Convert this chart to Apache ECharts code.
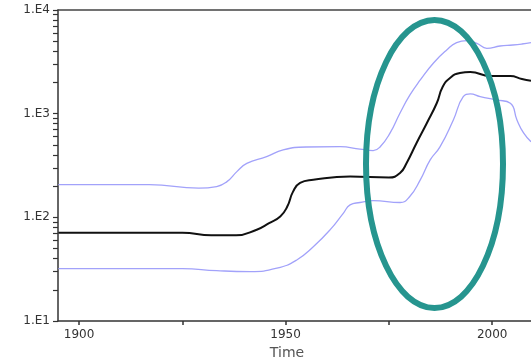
<!DOCTYPE html>
<html>
<head>
<meta charset="utf-8">
<script src="https://cdn.jsdelivr.net/npm/echarts@6/dist/echarts.min.js"></script>
<style>html,body{margin:0;padding:0;background:#fff}#c{width:531px;height:362px}</style>
</head>
<body>
<div id="c"></div>
<script>
const blackYears = [1895,1925,1932,1938,1943,1946,1948.7,1950.4,1951.8,1953.5,1956.7,1965.6,1975,1977.7,1979.3,1981.7,1984.2,1986.6,1988,1989.8,1992.2,1994.7,1999.5,2004.4,2007.2,2009.4];
const blackVals  = [71,71,67,67,76,88,102,127,177,215,230,247,242,268,335,522,813,1268,1809,2210,2469,2523,2310,2310,2160,2080];

const upperYears = [1895,1917,1929,1933.3,1935.8,1938.2,1940.6,1945.4,1949.4,1955,1963.2,1968,1971.2,1972.9,1975.3,1977.7,1980.1,1982.6,1985.8,1989,1991.4,1993.9,1996.3,1998.7,2001.9,2005,2007.2,2009.4];
const upperVals  = [207,207,191,198,221,276,332,385,447,477,480,454,440,480,652,1016,1515,2113,3083,4115,4838,5058,4774,4272,4497,4597,4699,4838];

const lowerYears = [1895,1925,1933.3,1941.4,1947.9,1952.7,1956.7,1960.8,1964,1965.6,1968,1971.2,1977.7,1980,1982.6,1985,1987.4,1990.6,1993,1994.7,1997.1,2001.1,2004.4,2006,2007.6,2009.4];
const lowerVals  = [32,32,30.6,30,32.3,38.8,52,76,110,132,139,145,139,158,230,358,481,870,1458,1549,1458,1356,1260,870,652,537];

const xTickValues  = [1900,1925,1950,1975,2000];
const xLabelValues = [1900,1950,2000];
const yLabelValues = [10,100,1000,10000];
const yTickValues = [];
[10,100,1000].forEach(d => { for (let k = 1; k <= 9; k++) yTickValues.push(d*k); });
yTickValues.push(10000);

const pairs = (xs, ys) => xs.map((x, i) => [x, ys[i]]);

const chart = echarts.init(document.getElementById('c'), null, {renderer: 'canvas'});
const axisColor = '#333';
chart.setOption({
  animation: false,
  grid: {left: 58, right: 0, top: 10, bottom: 41, containLabel: false, outerBoundsMode: 'none'},
  xAxis: [{
    type: 'value', min: 1894.9, max: 2009.4,
    name: 'Time', nameLocation: 'middle', nameGap: 25,
    nameTextStyle: {fontFamily: 'DejaVu Sans', fontSize: 14, color: '#555', padding: [0, 15, 0, 0]},
    splitLine: {show: false},
    axisLine: {show: true, onZero: false, lineStyle: {color: axisColor, width: 1.5}},
    axisTick: {show: true, length: 4, customValues: xTickValues, lineStyle: {color: axisColor, width: 1.5}},
    axisLabel: {customValues: xLabelValues, margin: 8, fontFamily: 'DejaVu Sans', fontSize: 12, color: '#333',
      formatter: v => String(Math.round(v))}
  }, {
    type: 'value', position: 'top', min: 1894.9, max: 2009.4,
    splitLine: {show: false},
    axisLine: {show: true, lineStyle: {color: '#444', width: 1.5}},
    axisTick: {show: false}, axisLabel: {show: false}
  }],
  yAxis: {
    type: 'log', logBase: 10, min: 10, max: 10000,
    splitLine: {show: false},
    axisLine: {show: true, onZero: false, lineStyle: {color: axisColor, width: 1.5}},
    axisTick: {show: true, length: 5, customValues: yTickValues, lineStyle: {color: axisColor, width: 1.2}},
    axisLabel: {customValues: yLabelValues, margin: 8, fontFamily: 'DejaVu Sans', fontSize: 12, color: '#333',
      formatter: v => '1.E' + Math.round(Math.log10(v))}
  },
  series: [
    {type: 'line', data: pairs(upperYears, upperVals), smooth: 0.5, showSymbol: false,
     lineStyle: {color: '#a2a2fa', width: 1.3}},
    {type: 'line', data: pairs(lowerYears, lowerVals), smooth: 0.5, showSymbol: false,
     lineStyle: {color: '#a2a2fa', width: 1.3}},
    {type: 'line', data: pairs(blackYears, blackVals), smooth: 0.5, showSymbol: false,
     lineStyle: {color: '#111', width: 2}}
  ],
  graphic: [{
    type: 'ellipse', z: 100,
    shape: {cx: 434.5, cy: 164, rx: 68.5, ry: 144},
    style: {fill: null, stroke: '#26958f', lineWidth: 6}
  }]
});
</script>
</body>
</html>
